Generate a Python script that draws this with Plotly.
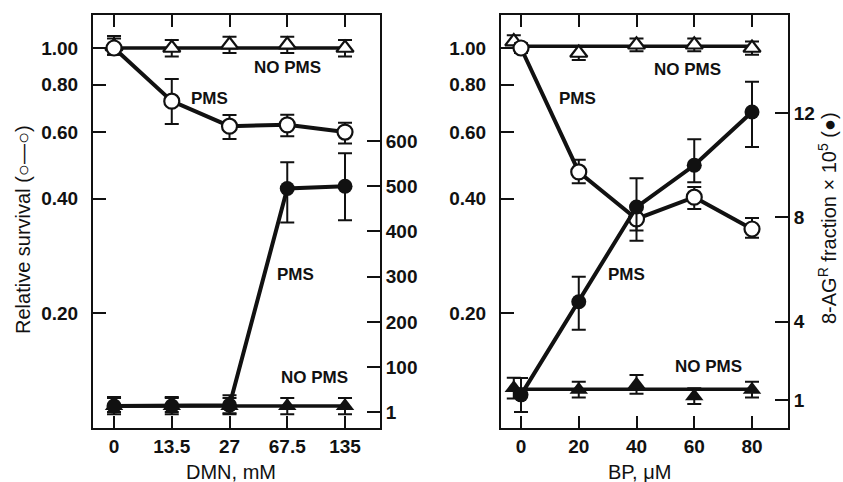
import math
import plotly.graph_objects as go

# ---------------- data ----------------
# Left panel: DMN, mM (equally spaced categories)
dmn_labels = ["0", "13.5", "27", "67.5", "135"]
dmn_idx = list(range(len(dmn_labels)))

# survival with PMS (open circles)
dmn_surv_pms = [1.00, 0.724, 0.622, 0.627, 0.600]
dmn_surv_pms_up = [0.076, 0.104, 0.044, 0.040, 0.035]
dmn_surv_pms_dn = [0.04, 0.094, 0.047, 0.042, 0.040]
# survival without PMS (open triangles)
dmn_surv_nopms = [1.01, 1.00, 1.02, 1.02, 1.00]
dmn_surv_nopms_err = [0.05, 0.05, 0.05, 0.05, 0.05]
dmn_surv_nopms_line = 1.00
# 8-AGR fraction x 10^5 with PMS (filled circles)
dmn_mut_pms = [14, 14, 16, 495, 500]
dmn_mut_pms_up = [20, 20, 22, 58, 73]
dmn_mut_pms_dn = [13, 13, 18, 75, 75]
# 8-AGR without PMS (filled triangles)
dmn_mut_nopms = [14, 14, 14, 14, 14]
dmn_mut_nopms_err = [18, 18, 18, 18, 18]
dmn_mut_nopms_line = 14

# Right panel: BP, uM
bp_ticks = [0, 20, 40, 60, 80]
bp_x = [0, 20, 40, 60, 80]
bp_tri_x = [-2.5, 20, 40, 60, 80]
bp_surv_pms = [1.00, 0.471, 0.354, 0.404, 0.333]
bp_surv_pms_up = [0.03, 0.036, 0.03, 0.026, 0.023]
bp_surv_pms_dn = [0.03, 0.031, 0.044, 0.028, 0.017]
bp_surv_nopms = [1.04, 0.97, 1.02, 1.02, 1.00]
bp_surv_nopms_err = [0.04, 0.04, 0.04, 0.04, 0.04]
bp_surv_nopms_line = 1.01
bp_mut_pms = [1.2, 4.77, 8.4, 10.0, 12.04]
bp_mut_pms_up = [0.65, 0.96, 1.1, 1.0, 1.16]
bp_mut_pms_dn = [0.66, 1.07, 0.9, 0.65, 1.34]
bp_mut_nopms = [1.46, 1.4, 1.6, 1.15, 1.4]
bp_mut_nopms_err = [0.4, 0.3, 0.36, 0.3, 0.3]
bp_mut_nopms_line = 1.42

surv_ticks = [0.20, 0.40, 0.60, 0.80, 1.00]
dmn_mut_ticks = [1, 100, 200, 300, 400, 500, 600]
bp_mut_ticks = [1, 4, 8, 12]

# ---------------- layout geometry ----------------
W, H = 843, 482
def px(x):
    return x / W
def py(y):
    return 1 - y / H

FONT = "Liberation Sans, Arial, Helvetica, sans-serif"
BLACK = "#111111"
tickfont = dict(family=FONT, size=19, color=BLACK, weight="bold")

fig = go.Figure()

def err(up, dn):
    return dict(type="data", array=up, arrayminus=dn, symmetric=False,
                color=BLACK, thickness=2, width=7)

open_marker = dict(color="white", size=15, line=dict(color=BLACK, width=2.2))

# ---- Left panel ----
fig.add_trace(go.Scatter(x=[dmn_idx[0], dmn_idx[-1]], y=[dmn_mut_nopms_line] * 2,
                         mode="lines", line=dict(color=BLACK, width=3.5),
                         xaxis="x", yaxis="y2", hoverinfo="skip"))
fig.add_trace(go.Scatter(x=dmn_idx, y=dmn_mut_nopms, mode="markers",
                         marker=dict(symbol="triangle-up", color=BLACK, size=16),
                         error_y=err(dmn_mut_nopms_err, dmn_mut_nopms_err),
                         xaxis="x", yaxis="y2"))
fig.add_trace(go.Scatter(x=dmn_idx, y=dmn_mut_pms, mode="lines+markers",
                         line=dict(color=BLACK, width=4),
                         marker=dict(symbol="circle", color=BLACK, size=15),
                         error_y=err(dmn_mut_pms_up, dmn_mut_pms_dn),
                         xaxis="x", yaxis="y2"))
fig.add_trace(go.Scatter(x=[dmn_idx[0], dmn_idx[-1]], y=[dmn_surv_nopms_line] * 2,
                         mode="lines", line=dict(color=BLACK, width=3.5),
                         xaxis="x", yaxis="y", hoverinfo="skip"))
fig.add_trace(go.Scatter(x=dmn_idx, y=dmn_surv_nopms, mode="markers",
                         marker=dict(symbol="triangle-up", **open_marker),
                         error_y=err(dmn_surv_nopms_err, dmn_surv_nopms_err),
                         xaxis="x", yaxis="y"))
fig.add_trace(go.Scatter(x=dmn_idx, y=dmn_surv_pms, mode="lines+markers",
                         line=dict(color=BLACK, width=4),
                         marker=dict(symbol="circle", **open_marker),
                         error_y=err(dmn_surv_pms_up, dmn_surv_pms_dn),
                         xaxis="x", yaxis="y"))

# ---- Right panel ----
fig.add_trace(go.Scatter(x=[bp_tri_x[0], bp_tri_x[-1]], y=[bp_mut_nopms_line] * 2,
                         mode="lines", line=dict(color=BLACK, width=3.5),
                         xaxis="x2", yaxis="y4", hoverinfo="skip"))
fig.add_trace(go.Scatter(x=bp_tri_x, y=bp_mut_nopms, mode="markers",
                         marker=dict(symbol="triangle-up", color=BLACK, size=16),
                         error_y=err(bp_mut_nopms_err, bp_mut_nopms_err),
                         xaxis="x2", yaxis="y4"))
fig.add_trace(go.Scatter(x=bp_x, y=bp_mut_pms, mode="lines+markers",
                         line=dict(color=BLACK, width=4),
                         marker=dict(symbol="circle", color=BLACK, size=15),
                         error_y=err(bp_mut_pms_up, bp_mut_pms_dn),
                         xaxis="x2", yaxis="y4"))
fig.add_trace(go.Scatter(x=[bp_tri_x[0], bp_tri_x[-1]], y=[bp_surv_nopms_line] * 2,
                         mode="lines", line=dict(color=BLACK, width=3.5),
                         xaxis="x2", yaxis="y3", hoverinfo="skip"))
fig.add_trace(go.Scatter(x=bp_tri_x, y=bp_surv_nopms, mode="markers",
                         marker=dict(symbol="triangle-up", **open_marker),
                         error_y=err(bp_surv_nopms_err, bp_surv_nopms_err),
                         xaxis="x2", yaxis="y3"))
fig.add_trace(go.Scatter(x=bp_x, y=bp_surv_pms, mode="lines+markers",
                         line=dict(color=BLACK, width=4),
                         marker=dict(symbol="circle", **open_marker),
                         error_y=err(bp_surv_pms_up, bp_surv_pms_dn),
                         xaxis="x2", yaxis="y3"))

ydom = [py(428), py(15)]
log_range = [-1.0026, 0.0871]

common_x = dict(showline=True, linecolor=BLACK, linewidth=2, mirror="ticks",
                ticks="inside", ticklen=12, tickwidth=2, tickcolor=BLACK,
                showgrid=False, zeroline=False, tickfont=tickfont)
common_y = dict(showline=True, linecolor=BLACK, linewidth=2,
                ticks="inside", ticklen=13, tickwidth=2, tickcolor=BLACK,
                showgrid=False, zeroline=False, tickfont=tickfont)

fig.update_layout(
    width=W, height=H,
    margin=dict(l=0, r=0, t=0, b=0),
    paper_bgcolor="white", plot_bgcolor="white",
    showlegend=False,
    font=dict(family=FONT, color=BLACK),
    xaxis=dict(domain=[px(93), px(380)], anchor="y", range=[-0.364, 4.606],
               tickmode="array", tickvals=dmn_idx, ticktext=dmn_labels, **common_x),
    yaxis=dict(domain=ydom, anchor="x", type="log", range=log_range,
               tickmode="array", tickvals=surv_ticks, ticklabelstandoff=9,
               ticktext=[f"{v:.2f}" for v in surv_ticks], **common_y),
    yaxis2=dict(overlaying="y", anchor="x", side="right", range=[-34.4, 878.5],
                tickmode="array", tickvals=dmn_mut_ticks,
                ticktext=[str(v) for v in dmn_mut_ticks], **common_y),
    xaxis2=dict(domain=[px(501), px(788)], anchor="y3", range=[-6.93, 92.47],
                tickmode="array", tickvals=bp_ticks,
                ticktext=[str(v) for v in bp_ticks], **common_x),
    yaxis3=dict(domain=ydom, anchor="x2", type="log", range=log_range,
                tickmode="array", tickvals=surv_ticks, ticklabelstandoff=9,
                ticktext=[f"{v:.2f}" for v in surv_ticks], **common_y),
    yaxis4=dict(overlaying="y3", anchor="x2", side="right", range=[-0.07, 15.76],
                tickmode="array", tickvals=bp_mut_ticks,
                ticktext=[str(v) for v in bp_mut_ticks], **common_y),
)

lab_font = dict(family=FONT, size=17, color=BLACK, weight="bold")
def note(text, x, y, xref, yref, logy):
    fig.add_annotation(text=text, x=x, y=math.log10(y) if logy else y,
                       xref=xref, yref=yref, showarrow=False, font=lab_font,
                       xanchor="center", yanchor="middle")

note("NO PMS", 3.0, 0.891, "x", "y", True)
note("PMS", 1.66, 0.738, "x", "y", True)
note("PMS", 3.15, 0.252, "x", "y", True)
note("NO PMS", 3.48, 0.1355, "x", "y", True)
note("NO PMS", 57.5, 0.88, "x2", "y3", True)
note("PMS", 19.6, 0.738, "x2", "y3", True)
note("PMS", 36.4, 0.252, "x2", "y3", True)
note("NO PMS", 64.8, 0.144, "x2", "y3", True)

def title(text, x, y, angle, size):
    fig.add_annotation(text=text, x=px(x), y=py(y), xref="paper", yref="paper",
                       showarrow=False, textangle=angle, xanchor="center", yanchor="middle",
                       font=dict(family=FONT, size=size, color=BLACK))

title("DMN, mM", 231, 472, 0, 20)
title("BP, μM", 639, 472, 0, 20)
title("Relative survival (○—○)", 23, 230, -90, 20)
title("8-AG<sup>R</sup> fraction × 10<sup>5</sup> (●)", 828, 218, -90, 20)

fig.write_html("out.html", config={"displayModeBar": False},
               post_script="document.body.style.margin='0';document.body.style.overflow='hidden';")
